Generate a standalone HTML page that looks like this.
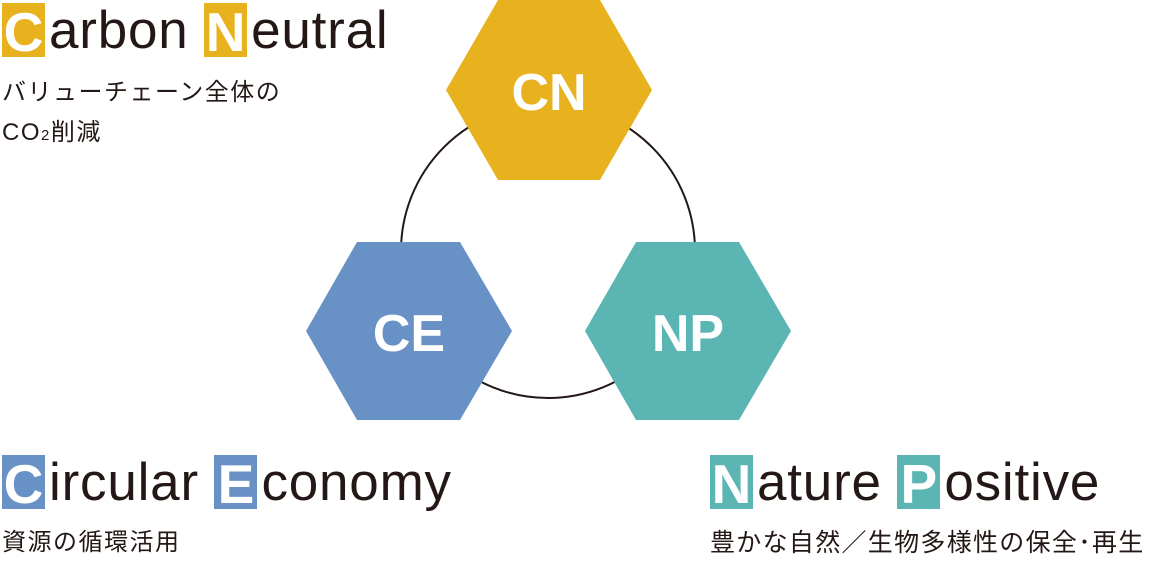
<!DOCTYPE html>
<html><head><meta charset="utf-8"><style>
body{margin:0;width:1160px;height:560px;background:#fff;position:relative;overflow:hidden;font-family:"Liberation Sans","Noto Sans CJK JP",sans-serif;color:#231815}
.t{position:absolute;font-size:53px;line-height:56px;white-space:nowrap;letter-spacing:0.8px}
.b{display:inline-block;color:#fff;width:43px;text-align:center;margin-right:4px;height:54px;font-weight:bold;letter-spacing:0;vertical-align:top;line-height:58px;font-size:55px;overflow:hidden}
.j{position:absolute;font-size:24px;white-space:nowrap;line-height:40px;letter-spacing:1.5px}
</style></head><body>
<svg width="1160" height="560" style="position:absolute;left:0;top:0">
<circle cx="548" cy="251" r="147" fill="none" stroke="#231815" stroke-width="2"/>
<polygon points="446,90 498,0 600,0 652,90 600,180 498,180" fill="#E8B21E"/>
<polygon points="306,331 357,242 460,242 512,331 460,420 357,420" fill="#6891C6"/>
<polygon points="585,331 636,242 739,242 791,331 739,420 636,420" fill="#5BB5B3"/>
<g font-family="Liberation Sans" font-weight="bold" font-size="52" fill="#fff" text-anchor="middle">
<text x="549" y="110">CN</text><text x="409" y="351">CE</text><text x="688" y="351">NP</text></g>
</svg>
<div class="t" style="left:2px;top:3px"><span class="b" style="background:#E8B21E">C</span>arbon <span class="b" style="background:#E8B21E">N</span>eutral</div>
<div class="j" style="left:2px;top:73px">バリューチェーン全体の<br>CO<span style="font-size:15px">2</span>削減</div>
<div class="t" style="left:2px;top:455px"><span class="b" style="background:#6891C6">C</span>ircular <span class="b" style="background:#6891C6">E</span>conomy</div>
<div class="j" style="left:2px;top:523px">資源の循環活用</div>
<div class="t" style="left:710px;top:455px"><span class="b" style="background:#5BB5B3">N</span>ature <span class="b" style="background:#5BB5B3">P</span>ositive</div>
<div class="j" style="left:710px;top:523px;font-size:25px;letter-spacing:1.3px">豊かな自然／生物多様性の保全･再生</div>
</body></html>
